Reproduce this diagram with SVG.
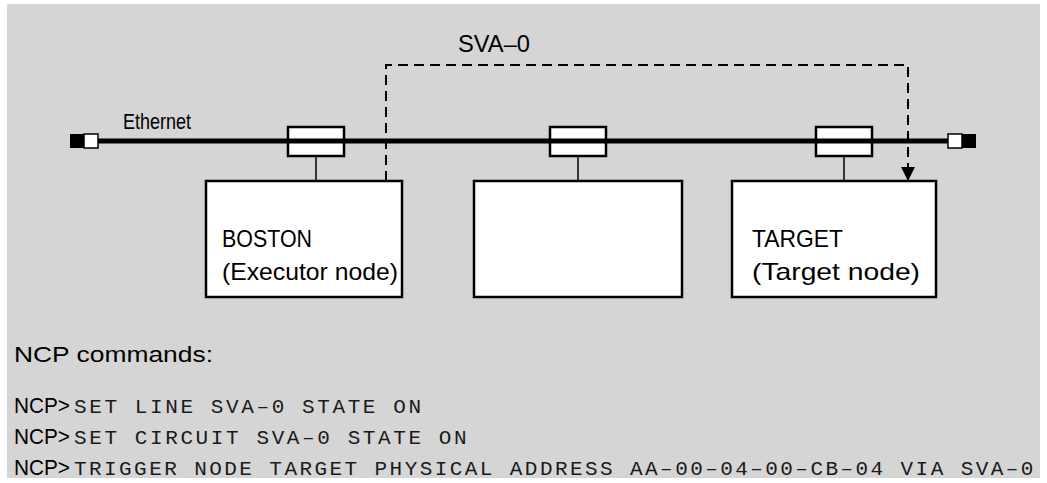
<svg xmlns="http://www.w3.org/2000/svg" width="1047" height="483" viewBox="0 0 1047 483">
<defs>
<style>
.bg{fill:#d5d5d5}
.lbl{font-family:"Liberation Sans",Arial,sans-serif;fill:#000}
.mono{font-family:"Liberation Mono","Courier New",monospace;fill:#1a1a1a;font-size:21px;letter-spacing:2.6px}
.box{fill:#fff;stroke:#000;stroke-width:2.5}
.stem{stroke:#000;stroke-width:1.5;fill:none}
.dash{stroke:#000;stroke-width:2;fill:none;stroke-dasharray:10 6}
</style>
<marker id="arr" markerWidth="14" markerHeight="14" refX="14" refY="7" orient="auto" markerUnits="userSpaceOnUse" viewBox="0 0 14 14">
<path d="M0,0 L14,7 L0,14 Z" fill="#000"/>
</marker>
</defs>
<rect class="bg" x="7" y="4" width="1033" height="474"/>
<text class="lbl" x="458" y="52" font-size="23" textLength="72" lengthAdjust="spacingAndGlyphs">SVA–0</text>
<g id="connectors">
<path class="dash" d="M386,181 V65 H908 V181" marker-end="url(#arr)"/>
<line x1="84" y1="141" x2="962" y2="141" stroke="#000" stroke-width="5"/>
<line class="stem" x1="316" y1="156" x2="316" y2="181"/>
<line class="stem" x1="578" y1="156" x2="578" y2="181"/>
<line class="stem" x1="844" y1="156" x2="844" y2="181"/>
</g>
<g id="ethernet">
<text class="lbl" x="123" y="129" font-size="22" textLength="68" lengthAdjust="spacingAndGlyphs">Ethernet</text>
<rect x="70" y="134" width="14" height="14" fill="#000"/>
<rect x="84" y="134" width="14" height="14" fill="#fff" stroke="#000" stroke-width="1.5"/>
<rect x="948" y="134" width="14" height="14" fill="#fff" stroke="#000" stroke-width="1.5"/>
<rect x="962" y="134" width="14" height="14" fill="#000"/>
</g>
<g id="tap1"><rect class="box" x="288" y="127" width="56" height="29"/><line x1="288" y1="141" x2="344" y2="141" stroke="#000" stroke-width="5"/></g>
<g id="tap2"><rect class="box" x="550" y="127" width="56" height="29"/><line x1="550" y1="141" x2="606" y2="141" stroke="#000" stroke-width="5"/></g>
<g id="tap3"><rect class="box" x="816" y="127" width="56" height="29"/><line x1="816" y1="141" x2="872" y2="141" stroke="#000" stroke-width="5"/></g>
<g id="boston">
<rect class="box" x="206" y="181" width="196" height="116"/>
<text class="lbl" x="222" y="247" font-size="24" textLength="90" lengthAdjust="spacingAndGlyphs">BOSTON</text>
<text class="lbl" x="222" y="280" font-size="24" textLength="176" lengthAdjust="spacingAndGlyphs">(Executor node)</text>
</g>
<g id="middle">
<rect class="box" x="474" y="181" width="208" height="116"/>
</g>
<g id="target">
<rect class="box" x="732" y="181" width="204" height="116"/>
<text class="lbl" x="752" y="247" font-size="24" textLength="91" lengthAdjust="spacingAndGlyphs">TARGET</text>
<text class="lbl" x="752" y="280" font-size="24" textLength="168" lengthAdjust="spacingAndGlyphs">(Target node)</text>
</g>
<g id="commands">
<text class="lbl" x="14" y="362" font-size="22" textLength="199" lengthAdjust="spacingAndGlyphs">NCP commands:</text>
<text class="lbl" x="14" y="413" font-size="22" textLength="56" lengthAdjust="spacingAndGlyphs">NCP&gt;</text>
<text class="mono" x="74" y="413">SET LINE SVA–0 STATE ON</text>
<text class="lbl" x="14" y="444" font-size="22" textLength="56" lengthAdjust="spacingAndGlyphs">NCP&gt;</text>
<text class="mono" x="74" y="444">SET CIRCUIT SVA–0 STATE ON</text>
<text class="lbl" x="14" y="475" font-size="22" textLength="56" lengthAdjust="spacingAndGlyphs">NCP&gt;</text>
<text class="mono" x="74" y="475" textLength="962" lengthAdjust="spacing">TRIGGER NODE TARGET PHYSICAL ADDRESS AA–00–04–00–CB–04 VIA SVA–0</text>
</g>
</svg>
